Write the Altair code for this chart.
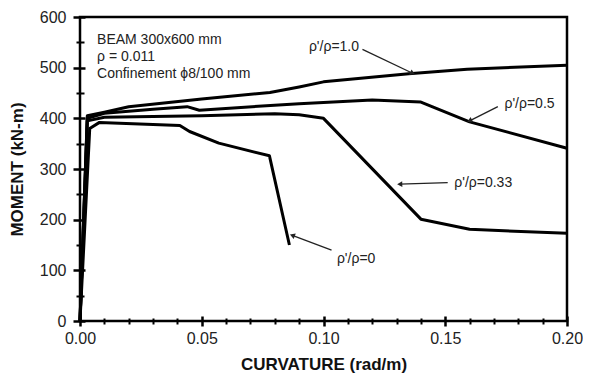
import math
import altair as alt
import pandas as pd

# ---- curve data (curvature rad/m, moment kN-m) ----
curv_r0 = [0.0, 0.004, 0.008, 0.030, 0.041, 0.045, 0.057, 0.0778, 0.086]
mom_r0 = [0, 380, 392, 388, 386, 374, 351, 326, 150]

curv_r033 = [0.0, 0.003, 0.010, 0.050, 0.080, 0.090, 0.100, 0.140, 0.160, 0.200]
mom_r033 = [0, 395, 402, 405, 409, 407, 400, 201, 181, 173]

curv_r05 = [0.0, 0.003, 0.010, 0.030, 0.044, 0.049, 0.090, 0.120, 0.140, 0.160, 0.200]
mom_r05 = [0, 400, 410, 418, 423, 416, 429, 436, 432, 393, 341]

curv_r10 = [0.0, 0.003, 0.010, 0.020, 0.050, 0.078, 0.090, 0.100, 0.135, 0.159, 0.200]
mom_r10 = [0, 405, 412, 423, 438, 451, 462, 472, 488, 497, 505]

series_names = ["ρ'/ρ=0", "ρ'/ρ=0.33", "ρ'/ρ=0.5", "ρ'/ρ=1.0"]
series_curv = [curv_r0, curv_r033, curv_r05, curv_r10]
series_mom = [mom_r0, mom_r033, mom_r05, mom_r10]

# ---- annotations ----
ann_text = ["ρ'/ρ=1.0", "ρ'/ρ=0.5", "ρ'/ρ=0.33", "ρ'/ρ=0"]
ann_x = [0.1043, 0.1846, 0.1656, 0.1134]
ann_y = [541, 428, 272, 122]
arrow_x1 = [0.1160, 0.1716, 0.1510, 0.1033]
arrow_y1 = [536, 423, 273, 140]
arrow_x2 = [0.1366, 0.1600, 0.1313, 0.0872]
arrow_y2 = [489, 395, 270, 169]

info_text = ["BEAM 300x600 mm", "ρ = 0.011", "Confinement ϕ8/100 mm"]
info_x = [0.007, 0.007, 0.007]
info_y = [555, 521, 488]

x_major = [0.0, 0.05, 0.10, 0.15, 0.20]
x_minor = [0.01, 0.02, 0.03, 0.04, 0.06, 0.07, 0.08, 0.09, 0.11, 0.12, 0.13, 0.14,
           0.16, 0.17, 0.18, 0.19]
y_major = [0, 100, 200, 300, 400, 500, 600]
y_minor = [50, 150, 250, 350, 450, 550]

W, H = 487, 304
FONT = "Liberation Sans"

rows = []
for name, cs, ms in zip(series_names, series_curv, series_mom):
    for i, (c, m) in enumerate(zip(cs, ms)):
        rows.append({"series": name, "order": i, "c": c, "m": m})
df = pd.DataFrame(rows)

ann_df = pd.DataFrame({"text": ann_text, "x": ann_x, "y": ann_y,
                       "x1": arrow_x1, "y1": arrow_y1, "x2": arrow_x2, "y2": arrow_y2})
angles = []
for x1, y1, x2, y2 in zip(arrow_x1, arrow_y1, arrow_x2, arrow_y2):
    dx = (x2 - x1) * W / 0.2
    dy = -(y2 - y1) * H / 600.0
    angles.append((math.degrees(math.atan2(dx, -dy)) + 360) % 360)
ann_df["angle"] = angles

info_df = pd.DataFrame({"text": info_text, "x": info_x, "y": info_y})

xscale = alt.Scale(domain=[0, 0.2], nice=False, zero=False)
yscale = alt.Scale(domain=[0, 600], nice=False)

major_x = alt.Axis(values=x_major, format=".2f", orient="bottom", domain=False, grid=False,
                   tickSize=10, offset=-5, tickWidth=2.5, tickColor="black",
                   labelFontSize=16, labelPadding=4, labelColor="#222", labelFont=FONT,
                   labelFlush=False, labelOverlap=False,
                   title="CURVATURE  (rad/m)", titleFontSize=17, titleFontWeight="bold",
                   titleFont=FONT, titleColor="#111", titlePadding=10)
major_y = alt.Axis(values=y_major, format="d", orient="left", domain=False, grid=False,
                   tickSize=12, offset=-5, tickWidth=2.5, tickColor="black",
                   labelFontSize=16, labelPadding=7, labelColor="#222", labelFont=FONT,
                   labelFlush=False, labelOverlap=False,
                   title="MOMENT  (kN-m)", titleFontSize=17, titleFontWeight="bold",
                   titleFont=FONT, titleColor="#111", titlePadding=13)
minor_x = alt.Axis(values=x_minor, orient="bottom", domain=False, grid=False, labels=False,
                   tickSize=6, offset=-3, tickWidth=2, tickColor="black", title="")
minor_y = alt.Axis(values=y_minor, orient="left", domain=False, grid=False, labels=False,
                   tickSize=8, offset=-4, tickWidth=2, tickColor="black", title="")

lines = alt.Chart(df).mark_line(color="black", strokeWidth=3, strokeJoin="round").encode(
    x=alt.X("c:Q", scale=xscale, axis=major_x),
    y=alt.Y("m:Q", scale=yscale, axis=major_y),
    detail="series:N",
    order="order:Q",
)

minor = alt.Chart(df).mark_point(opacity=0).encode(
    x=alt.X("c:Q", scale=xscale, axis=minor_x),
    y=alt.Y("m:Q", scale=yscale, axis=minor_y),
)

arrows = alt.Chart(ann_df).mark_rule(color="#222", strokeWidth=1.3).encode(
    x=alt.X("x1:Q", scale=xscale, axis=None),
    y=alt.Y("y1:Q", scale=yscale, axis=None),
    x2="x2:Q",
    y2="y2:Q",
)

heads = alt.Chart(ann_df).mark_point(shape="triangle-up", filled=True, color="#222",
                                      size=35, opacity=1).encode(
    x=alt.X("x2:Q", scale=xscale, axis=None),
    y=alt.Y("y2:Q", scale=yscale, axis=None),
    angle=alt.Angle("angle:Q", scale=None),
)

labels = alt.Chart(ann_df).mark_text(font=FONT, fontSize=14, color="#222",
                                      align="center", baseline="middle").encode(
    x=alt.X("x:Q", scale=xscale, axis=None),
    y=alt.Y("y:Q", scale=yscale, axis=None),
    text="text:N",
)

info = alt.Chart(info_df).mark_text(font=FONT, fontSize=14, color="#222",
                                     align="left", baseline="middle").encode(
    x=alt.X("x:Q", scale=xscale, axis=None),
    y=alt.Y("y:Q", scale=yscale, axis=None),
    text="text:N",
)

chart = alt.layer(lines, minor, arrows, heads, labels, info).resolve_axis(
    x="independent", y="independent"
).properties(
    width=W, height=H, autosize="none",
    padding={"left": 72, "top": 9, "right": 16, "bottom": 53},
).configure(
    background="white",
    view=alt.ViewConfig(stroke="black", strokeWidth=2.5),
)

chart.save("out.html", embed_options={"renderer": "svg", "actions": False})
